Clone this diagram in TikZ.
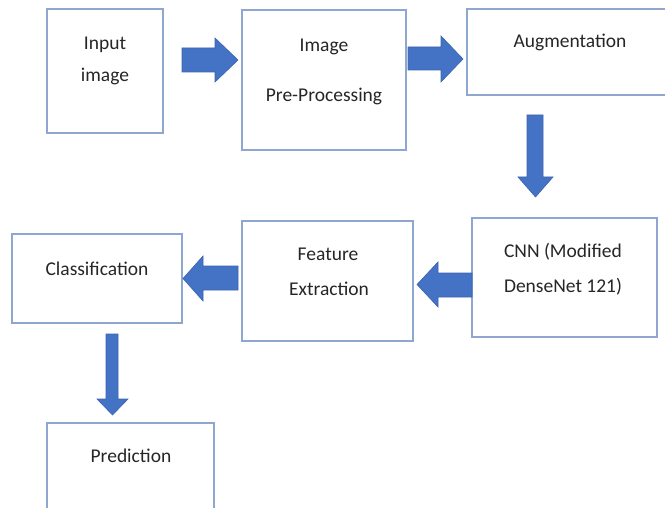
\documentclass[tikz,border=0pt]{standalone}
\usepackage{fontspec}
\setmainfont{Carlito}
\definecolor{boxedge}{RGB}{143,166,208}
\definecolor{flowfill}{RGB}{68,114,196}
\definecolor{flowedge}{RGB}{60,100,175}
\begin{document}
\begin{tikzpicture}[x=1bp,y=-1bp,
  stagebox/.style={draw=boxedge,line width=1.6bp,fill=white,inner sep=0pt,outer sep=0pt},
  flow/.style={fill=flowfill,draw=flowedge,line width=0.6bp,line join=miter},
  lbl/.style={anchor=base,inner sep=0pt,font=\fontsize{19.5bp}{23bp}\selectfont,text=black!85}]
\useasboundingbox (0,0) rectangle (665,508);
\clip (0,0) rectangle (665,508);

% stage boxes
\node[stagebox,minimum width=116bp,minimum height=124bp] (input) at (105,71) {};
\node[stagebox,minimum width=164bp,minimum height=140bp] (prep) at (324,80) {};
\node[stagebox,minimum width=223bp,minimum height=86bp] (aug) at (578.5,52) {};
\node[stagebox,minimum width=185bp,minimum height=119bp] (cnn) at (564.5,277.5) {};
\node[stagebox,minimum width=171bp,minimum height=120bp] (feat) at (327.5,281) {};
\node[stagebox,minimum width=170bp,minimum height=89bp] (cls) at (97,278.5) {};
\node[stagebox,minimum width=167bp,minimum height=117bp] (pred) at (130.5,481.5) {};

% labels
\node[lbl] (tInput) at (105,50) {Input};
\node[lbl] (tImage) at (105,82) {image};
\node[lbl] (tImg) at (324,52) {Image};
\node[lbl] (tPre) at (324,102) {Pre-Processing};
\node[lbl] (tAug) at (570,48) {Augmentation};
\node[lbl] (tCnn) at (563,258) {CNN (Modified};
\node[lbl] (tDense) at (563,292) {DenseNet 121)};
\node[lbl] (tFeat) at (328,261) {Feature};
\node[lbl] (tExtr) at (329,295) {Extraction};
\node[lbl] (tCls) at (97,275) {Classification};
\node[lbl] (tPred) at (131,462) {Prediction};

% block arrows between the stages
\draw[flow] (182,48) -- (215,48) -- (215,38) -- (238,60) -- (215,82) -- (215,72) -- (182,72) -- cycle;
\draw[flow] (408,47) -- (441,47) -- (441,36) -- (463,59) -- (441,82) -- (441,70) -- (408,70) -- cycle;
\draw[flow] (527,115) -- (543,115) -- (543,177) -- (553,177) -- (535.5,197) -- (518,177) -- (527,177) -- cycle;
\draw[flow] (472,273) -- (438,273) -- (438,262) -- (417,284.5) -- (438,307) -- (438,297) -- (472,297) -- cycle;
\draw[flow] (238,266) -- (203,266) -- (203,256) -- (183,278.5) -- (203,301) -- (203,290) -- (238,290) -- cycle;
\draw[flow] (106,334) -- (118,334) -- (118,399) -- (128,399) -- (112.5,415) -- (97,399) -- (106,399) -- cycle;
\end{tikzpicture}
\end{document}
